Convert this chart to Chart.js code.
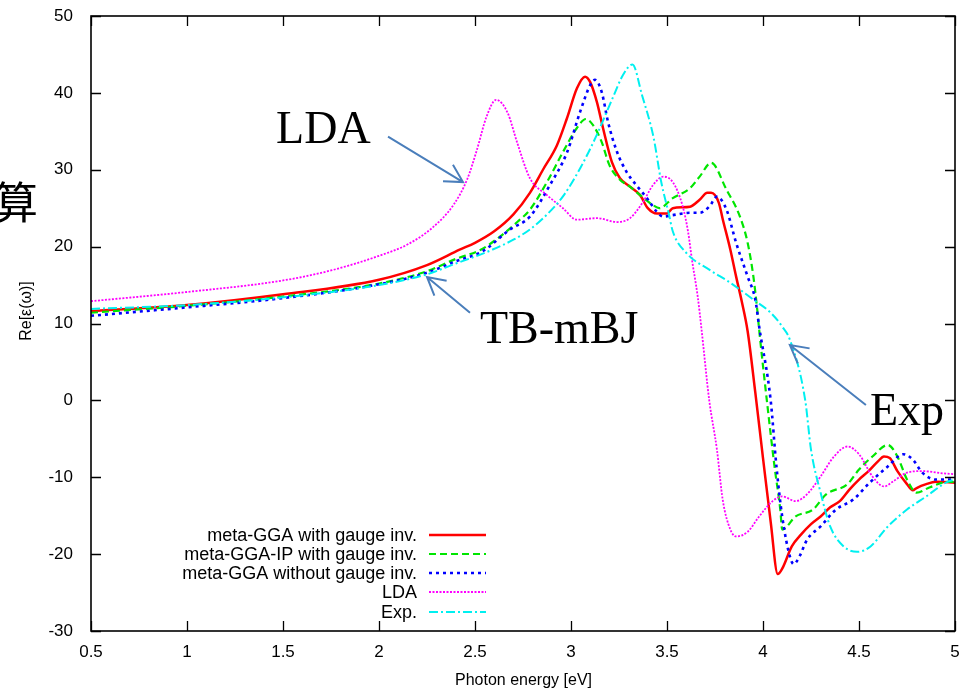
<!DOCTYPE html>
<html>
<head>
<meta charset="utf-8">
<script src="https://cdn.jsdelivr.net/npm/chart.js@4.4.0/dist/chart.umd.min.js"></script>
<style>
html,body{margin:0;padding:0;background:#fff;overflow:hidden}
#wrap{position:relative;width:979px;height:694px}
canvas{display:block}
</style>
</head>
<body>
<div id="wrap"><canvas id="c" width="979" height="694"></canvas></div>
<script>
// ---------- data ----------
const seriesLabels = ['meta-GGA with gauge inv.', 'meta-GGA-IP with gauge inv.', 'meta-GGA without gauge inv.', 'LDA', 'Exp.'];

const ggaX = [0.5, 1.0, 1.5, 2.0, 2.25, 2.42, 2.5, 2.6, 2.7, 2.786, 2.854, 2.927, 2.979, 3.031, 3.073, 3.10, 3.135, 3.167, 3.213, 3.255, 3.307, 3.36, 3.40, 3.448, 3.50, 3.53, 3.62, 3.67, 3.71, 3.73, 3.77, 3.79, 3.83, 3.86, 3.89, 3.92, 3.96, 4.00, 4.04, 4.077, 4.10, 4.15, 4.20, 4.25, 4.30, 4.35, 4.40, 4.45, 4.50, 4.55, 4.60, 4.63, 4.66, 4.70, 4.75, 4.78, 4.80, 4.85, 4.90, 5.0];
const ggaY = [11.6, 12.4, 13.8, 15.7, 17.6, 19.6, 20.5, 22.0, 24.2, 27.0, 30.0, 33.2, 36.7, 40.6, 42.1, 41.4, 38.8, 35.4, 31.0, 28.9, 27.8, 26.7, 25.0, 24.3, 24.3, 25.0, 25.2, 26.1, 27.0, 27.0, 25.7, 23.6, 19.6, 16.1, 12.8, 9.0, 1.0, -7.5, -15.8, -22.6, -21.9, -19.0, -17.4, -16.1, -15.1, -13.9, -13.1, -11.6, -10.3, -9.2, -7.9, -7.3, -7.5, -9.2, -10.9, -11.7, -11.4, -10.9, -10.6, -10.7];

const ipX = [0.5, 1.0, 1.5, 2.0, 2.25, 2.4, 2.53, 2.63, 2.72, 2.786, 2.875, 2.958, 3.03, 3.078, 3.115, 3.16, 3.20, 3.255, 3.307, 3.36, 3.427, 3.46, 3.53, 3.62, 3.67, 3.73, 3.81, 3.88, 3.92, 3.95, 3.97, 3.98, 4.02, 4.06, 4.09, 4.10, 4.17, 4.26, 4.33, 4.44, 4.50, 4.57, 4.65, 4.70, 4.75, 4.80, 4.87, 4.96, 5.0];
const ipY = [11.4, 12.3, 13.5, 15.2, 16.8, 18.4, 19.6, 21.3, 23.2, 24.8, 28.4, 32.3, 35.4, 36.6, 35.8, 33.6, 30.6, 28.7, 27.8, 26.7, 25.4, 25.0, 26.3, 27.6, 29.1, 30.9, 27.4, 23.9, 20.5, 16.1, 11.8, 9.2, 0.0, -8.6, -14.2, -16.8, -15.1, -14.2, -12.2, -10.9, -9.0, -7.3, -5.8, -7.3, -10.3, -12.0, -11.3, -10.6, -10.6];

const noGaugeX = [0.5, 1.0, 1.5, 2.0, 2.25, 2.4, 2.54, 2.68, 2.786, 2.89, 2.98, 3.047, 3.10, 3.125, 3.16, 3.193, 3.24, 3.29, 3.34, 3.396, 3.448, 3.48, 3.53, 3.62, 3.67, 3.72, 3.76, 3.81, 3.86, 3.92, 3.96, 3.98, 4.04, 4.07, 4.10, 4.14, 4.16, 4.19, 4.23, 4.30, 4.38, 4.47, 4.56, 4.65, 4.73, 4.78, 4.83, 4.90, 5.0];
const noGaugeY = [11.0, 12.1, 13.3, 15.1, 16.6, 18.1, 19.4, 22.2, 23.9, 28.0, 32.3, 37.5, 41.0, 41.7, 40.1, 36.2, 32.3, 29.7, 28.0, 26.3, 24.5, 23.9, 24.1, 24.4, 24.4, 25.2, 26.5, 24.8, 20.5, 16.1, 13.1, 9.6, 0.0, -8.6, -15.1, -20.3, -21.3, -20.3, -18.1, -16.4, -14.2, -12.9, -10.6, -8.6, -7.0, -7.7, -9.4, -10.3, -10.3];

const ldaX = [0.5, 1.0, 1.5, 1.75, 2.0, 2.15, 2.28, 2.39, 2.46, 2.51, 2.56, 2.61, 2.67, 2.72, 2.786, 2.875, 2.958, 3.03, 3.135, 3.24, 3.307, 3.375, 3.427, 3.48, 3.53, 3.58, 3.61, 3.63, 3.66, 3.68, 3.72, 3.76, 3.79, 3.83, 3.86, 3.92, 3.98, 4.05, 4.10, 4.17, 4.23, 4.30, 4.37, 4.44, 4.50, 4.57, 4.63, 4.68, 4.75, 4.83, 4.94, 5.0];
const ldaY = [12.9, 14.1, 15.6, 16.9, 18.8, 20.3, 22.5, 25.5, 28.8, 32.6, 36.9, 39.1, 37.4, 33.5, 28.9, 26.7, 25.0, 23.5, 23.7, 23.2, 23.7, 25.8, 28.0, 29.1, 28.4, 25.4, 21.9, 18.3, 13.5, 9.2, 0.0, -6.4, -12.9, -16.8, -17.7, -17.1, -15.1, -13.1, -12.5, -13.1, -12.2, -9.9, -7.3, -6.0, -7.0, -9.9, -11.2, -10.5, -9.4, -9.2, -9.5, -9.6];

const expX = [0.5, 1.0, 1.5, 2.0, 2.25, 2.4, 2.5, 2.59, 2.7, 2.79, 2.88, 2.96, 3.05, 3.13, 3.22, 3.27, 3.32, 3.37, 3.43, 3.47, 3.51, 3.53, 3.60, 3.72, 3.83, 3.95, 4.04, 4.10, 4.14, 4.22, 4.25, 4.30, 4.35, 4.42, 4.49, 4.56, 4.65, 4.75, 4.85, 4.96, 5.0];
const expY = [11.9, 12.4, 13.4, 15.0, 16.4, 17.8, 18.7, 19.6, 20.9, 22.3, 24.3, 26.6, 30.3, 34.3, 39.5, 42.3, 43.7, 39.7, 34.2, 28.4, 24.2, 22.0, 19.2, 17.0, 15.3, 13.1, 11.4, 9.6, 7.9, 0.0, -6.4, -12.0, -16.4, -19.0, -19.7, -19.0, -16.4, -14.2, -12.5, -10.6, -10.3];

const xTickValues = [0.5, 1, 1.5, 2, 2.5, 3, 3.5, 4, 4.5, 5];
const xTickLabels = ['0.5', '1', '1.5', '2', '2.5', '3', '3.5', '4', '4.5', '5'];
const yTickValues = [-30, -20, -10, 0, 10, 20, 30, 40, 50];
const yTickLabels = ['-30', '-20', '-10', '0', '10', '20', '30', '40', '50'];

const xTitle = 'Photon energy [eV]';
const yTitle = 'Re[ε(ω)]';
const sideChar = '算';
// annotation labels with arrows, positions given in data units
const noteTexts = ['LDA', 'TB-mBJ', 'Exp'];
const noteTextAt = [[1.464, 33.5], [2.526, 7.5], [4.557, -3.2]];
const noteTail = [[2.047, 34.3], [2.474, 11.4], [4.536, -0.6]];
const noteTip = [[2.4375, 28.4], [2.25, 16.05], [4.14, 7.2]];

// ---------- styles ----------
const colors = ['#ff0000', '#00e600', '#0000ff', '#ff00ff', '#00f0f0'];
const dashes = [[], [7, 4], [3, 4], [2, 1.5], [9, 3, 2, 3]];
const widths = [2.5, 2.2, 2.6, 1.8, 2.0];

function pts(xs, ys) { return xs.map((x, i) => ({ x: x, y: ys[i] })); }
const seriesX = [ggaX, ipX, noGaugeX, ldaX, expX];
const seriesY = [ggaY, ipY, noGaugeY, ldaY, expY];

const datasets = seriesLabels.map((lab, i) => ({
  label: lab,
  data: pts(seriesX[i], seriesY[i]),
  borderColor: colors[i],
  backgroundColor: colors[i],
  borderWidth: widths[i],
  borderDash: dashes[i],
  pointRadius: 0,
  fill: false,
  cubicInterpolationMode: 'monotone',
  order: 5 - i
}));

const SANS = '"Liberation Sans", Arial, Helvetica, sans-serif';
const SERIF = '"Liberation Serif", "Times New Roman", serif';

const overlay = {
  id: 'overlay',
  afterDraw(chart) {
    const ctx = chart.ctx, a = chart.chartArea, xs = chart.scales.x, ys = chart.scales.y;
    ctx.save();
    // frame
    ctx.strokeStyle = '#000';
    ctx.lineWidth = 1.6;
    ctx.setLineDash([]);
    ctx.strokeRect(a.left, a.top, a.right - a.left, a.bottom - a.top);
    // inward ticks, mirrored
    const TL = 10;
    ctx.beginPath();
    xTickValues.forEach(v => {
      const p = Math.round(xs.getPixelForValue(v)) + 0.5;
      ctx.moveTo(p, a.bottom); ctx.lineTo(p, a.bottom - TL);
      ctx.moveTo(p, a.top); ctx.lineTo(p, a.top + TL);
    });
    yTickValues.forEach(v => {
      const p = Math.round(ys.getPixelForValue(v)) + 0.5;
      ctx.moveTo(a.left, p); ctx.lineTo(a.left + TL, p);
      ctx.moveTo(a.right, p); ctx.lineTo(a.right - TL, p);
    });
    ctx.lineWidth = 1.3;
    ctx.stroke();

    // axis titles
    ctx.fillStyle = '#000';
    ctx.font = '16px ' + SANS;
    ctx.textAlign = 'center';
    ctx.textBaseline = 'middle';
    ctx.fillText(xTitle, (a.left + a.right) / 2 + 0.5, 681);
    ctx.save();
    ctx.translate(27, 311);
    ctx.rotate(-Math.PI / 2);
    ctx.fillText(yTitle, 0, 0);
    ctx.restore();

    // legend (bottom left, labels right-aligned, sample to the right)
    const legRight = 417, sampleL = 429, sampleR = 486;
    const rowY = [535, 554, 573, 592, 612];
    ctx.font = '18px ' + SANS;
    ctx.textAlign = 'right';
    ctx.textBaseline = 'middle';
    seriesLabels.forEach((lab, i) => {
      ctx.fillStyle = '#000';
      ctx.fillText(lab, legRight, rowY[i] + 1);
      ctx.beginPath();
      ctx.strokeStyle = colors[i];
      ctx.lineWidth = widths[i];
      ctx.setLineDash(dashes[i]);
      ctx.moveTo(sampleL, rowY[i]); ctx.lineTo(sampleR, rowY[i]);
      ctx.stroke();
    });
    ctx.setLineDash([]);

    // annotations
    ctx.font = '46px ' + SERIF;
    ctx.textAlign = 'left';
    ctx.textBaseline = 'alphabetic';
    ctx.fillStyle = '#000';
    noteTexts.forEach((t, i) => {
      ctx.fillText(t, xs.getPixelForValue(noteTextAt[i][0]), ys.getPixelForValue(noteTextAt[i][1]));
    });
    ctx.strokeStyle = '#4a7ebb';
    ctx.lineWidth = 2;
    noteTail.forEach((tl, i) => {
      const x0 = xs.getPixelForValue(tl[0]), y0 = ys.getPixelForValue(tl[1]);
      const x1 = xs.getPixelForValue(noteTip[i][0]), y1 = ys.getPixelForValue(noteTip[i][1]);
      const ang = Math.atan2(y1 - y0, x1 - x0);
      const L = 20, w = 0.5;
      ctx.beginPath();
      ctx.moveTo(x0, y0); ctx.lineTo(x1, y1);
      ctx.moveTo(x1 - L * Math.cos(ang - w), y1 - L * Math.sin(ang - w));
      ctx.lineTo(x1, y1);
      ctx.lineTo(x1 - L * Math.cos(ang + w), y1 - L * Math.sin(ang + w));
      ctx.stroke();
    });

    // partly visible CJK character at far left
    ctx.font = '44px "Noto Sans CJK SC", "Noto Sans CJK JP", sans-serif';
    ctx.fillStyle = '#000';
    ctx.textAlign = 'left';
    ctx.textBaseline = 'middle';
    ctx.fillText(sideChar, -6, 202);
    ctx.restore();
  }
};

new Chart(document.getElementById('c'), {
  type: 'line',
  data: { datasets: datasets },
  options: {
    responsive: false,
    animation: false,
    devicePixelRatio: 1,
    layout: { padding: { left: 0, right: 24, top: 16, bottom: 0 } },
    plugins: { legend: { display: false }, tooltip: { enabled: false } },
    elements: { line: { tension: 0.4 } },
    scales: {
      x: {
        type: 'linear', min: 0.5, max: 5,
        afterFit(s) { s.height = 63; s.paddingLeft = 0; s.paddingRight = 0; s.paddingTop = 0; s.paddingBottom = 0; },
        afterBuildTicks(s) { s.ticks = xTickValues.map(v => ({ value: v })); },
        grid: { display: false, drawTicks: false },
        border: { display: false },
        ticks: {
          padding: 11, color: '#000', maxRotation: 0, autoSkip: false,
          font: { family: SANS, size: 17 },
          callback: (v) => { const k = xTickValues.indexOf(v); return k >= 0 ? xTickLabels[k] : ''; }
        }
      },
      y: {
        type: 'linear', min: -30, max: 50,
        afterFit(s) { s.width = 91; s.paddingLeft = 0; s.paddingRight = 0; s.paddingTop = 0; s.paddingBottom = 0; },
        afterBuildTicks(s) { s.ticks = yTickValues.map(v => ({ value: v })); },
        grid: { display: false, drawTicks: false },
        border: { display: false },
        ticks: {
          padding: 18, color: '#000', autoSkip: false,
          font: { family: SANS, size: 17 },
          callback: (v) => { const k = yTickValues.indexOf(v); return k >= 0 ? yTickLabels[k] : ''; }
        }
      }
    }
  },
  plugins: [overlay]
});
</script>
</body>
</html>
